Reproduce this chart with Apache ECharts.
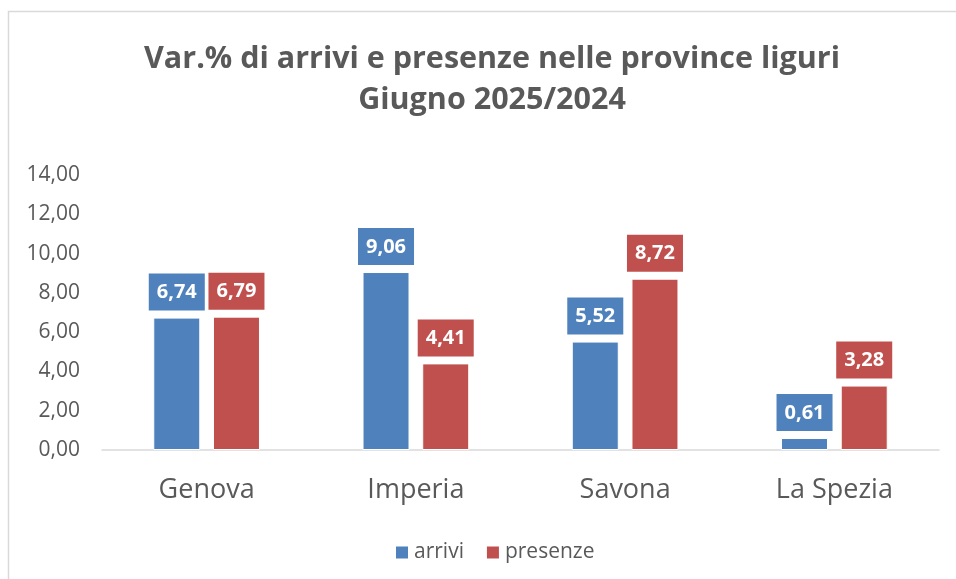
<!DOCTYPE html>
<html><head><meta charset="utf-8">
<script src="https://cdn.jsdelivr.net/npm/echarts@6/dist/echarts.min.js"></script>
<style>html,body{margin:0;padding:0;background:#fff}#c{width:956px;height:579px}</style>
</head><body><div id="c"></div>
<script>
const categories = ['Genova', 'Imperia', 'Savona', 'La Spezia'];
const arrivi = [6.74, 9.06, 5.52, 0.61];
const presenze = [6.79, 4.41, 8.72, 3.28];
const seriesNames = ['arrivi', 'presenze'];
const titleLines = ['Var.% di arrivi e presenze nelle province liguri', 'Giugno 2025/2024'];

const FONT = '"Open Sans", "Noto Sans", sans-serif';
const fmt = v => v.toFixed(2).replace('.', ',');
const BLUE = '#4f81bd', RED = '#c0504d';

function labelCfg(color) {
  return {
    show: true, position: 'top', distance: 7,
    formatter: p => fmt(p.value),
    backgroundColor: color, color: '#fff', fontWeight: 'bold',
    fontFamily: FONT, fontSize: 20, lineHeight: 22, padding: [8, 8, 7, 8]
  };
}

const chart = echarts.init(document.getElementById('c'), null, {renderer: 'canvas'});
chart.setOption({
  animation: false,
  graphic: [{type: 'rect', shape: {x: 8.5, y: 11.5, width: 1000, height: 1000},
    style: {fill: 'none', stroke: '#d9d9d9', lineWidth: 1.5}, silent: true}],
  title: {
    text: titleLines.join('\n'), left: 487, textAlign: 'center', top: 34,
    textStyle: {fontFamily: FONT, fontWeight: 'bold', fontSize: 30.5, color: '#595959', lineHeight: 41}
  },
  legend: {
    data: seriesNames, top: 537, left: 389, itemWidth: 14, itemHeight: 14, itemGap: 21,
    icon: 'rect',
    textStyle: {fontFamily: FONT, fontSize: 21, color: '#595959'}
  },
  grid: {left: 102, right: 17, top: 175, bottom: 129, containLabel: false},
  xAxis: {
    type: 'category', data: categories,
    axisLine: {lineStyle: {color: '#d9d9d9', width: 1.5}},
    axisTick: {show: false},
    axisLabel: {fontFamily: FONT, fontSize: 27, color: '#595959', margin: 27}
  },
  yAxis: {
    type: 'value', min: 0, max: 14, interval: 2,
    axisLine: {show: false}, axisTick: {show: false}, splitLine: {show: false},
    axisLabel: {fontFamily: FONT, fontSize: 21, color: '#595959', margin: 22, formatter: v => fmt(v)}
  },
  series: [
    {name: seriesNames[0], type: 'bar', data: arrivi, barWidth: 47, barGap: '27%',
     itemStyle: {color: BLUE, borderColor: '#fff', borderWidth: 1}, label: labelCfg(BLUE)},
    {name: seriesNames[1], type: 'bar', data: presenze, barWidth: 47,
     itemStyle: {color: RED, borderColor: '#fff', borderWidth: 1}, label: labelCfg(RED)}
  ]
});
</script></body></html>
